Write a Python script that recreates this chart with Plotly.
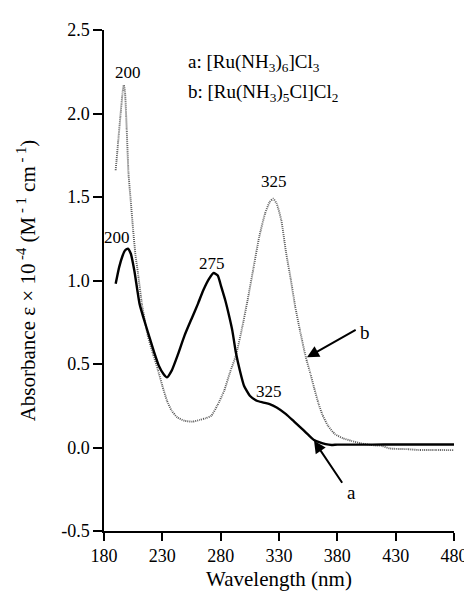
import plotly.graph_objects as go

# Curve a: [Ru(NH3)6]Cl3
wl_a = [190, 193, 196, 198, 200.5, 203, 206, 210.5, 215, 219, 223, 227, 231, 234, 238, 243,
        249, 255, 260.5, 265, 270, 274, 277.5, 280.6, 284, 287.5, 290, 293, 296.5, 300,
        305, 311, 316, 322, 328, 336, 343, 350, 356, 360, 365, 370, 375, 380, 400, 420,
        440, 460, 480]
abs_a = [0.98, 1.08, 1.15, 1.18, 1.19, 1.16, 1.06, 0.86, 0.75, 0.66, 0.57, 0.49, 0.44, 0.42,
         0.46, 0.55, 0.67, 0.77, 0.86, 0.94, 1.01, 1.045, 1.03, 0.96, 0.88, 0.78, 0.70, 0.57,
         0.46, 0.37, 0.31, 0.28, 0.27, 0.26, 0.24, 0.20, 0.155, 0.11, 0.07, 0.045, 0.03, 0.02,
         0.015, 0.017, 0.017, 0.018, 0.018, 0.018, 0.018]

# Curve b: [Ru(NH3)5Cl]Cl2
wl_b = [190, 192, 194, 196, 197, 198, 199.5, 201, 203, 205, 207, 209, 212.5, 217.5, 222, 226,
        230, 234, 238, 243, 249, 256, 262, 267, 272, 277, 283, 288, 293, 298.5, 303, 308,
        313, 318, 322, 325, 328, 332, 336, 340, 344, 348, 353, 357, 360, 364, 367, 372, 378,
        385, 392, 400, 411, 418, 425, 440, 450, 465, 480]
abs_b = [1.66, 1.82, 1.98, 2.13, 2.17, 2.13, 1.90, 1.64, 1.47, 1.30, 1.15, 1.05, 0.86, 0.67,
         0.56, 0.47, 0.37, 0.28, 0.22, 0.18, 0.16, 0.155, 0.165, 0.175, 0.19, 0.25, 0.34, 0.45,
         0.55, 0.72, 0.88, 1.07, 1.26, 1.40, 1.47, 1.49, 1.46, 1.36, 1.17, 1.01, 0.84, 0.70,
         0.54, 0.44, 0.36, 0.26, 0.20, 0.13, 0.08, 0.055, 0.04, 0.025, 0.013, 0.01, -0.006,
         -0.01, -0.015, -0.015, -0.016]

x_ticks = [180, 230, 280, 330, 380, 430, 480]
y_ticks = [-0.5, 0.0, 0.5, 1.0, 1.5, 2.0, 2.5]
y_tick_text = ["-0.5", "0.0", "0.5", "1.0", "1.5", "2.0", "2.5"]

# peak labels: (x, y, text)
peak_labels = [(200.5, 2.245, "200"), (191.5, 1.255, "200"), (272.5, 1.10, "275"),
               (325.6, 1.59, "325"), (321, 0.333, "325")]

FONT = "'Liberation Serif', 'DejaVu Serif', serif"

fig = go.Figure()
fig.add_trace(go.Scatter(x=wl_b, y=abs_b, mode="lines",
                         line=dict(color="#5a5a5a", width=1.9, dash="1px,1px",
                                   shape="spline", smoothing=0.5),
                         showlegend=False))
fig.add_trace(go.Scatter(x=wl_a, y=abs_a, mode="lines",
                         line=dict(color="black", width=2.4, shape="spline", smoothing=0.5),
                         showlegend=False))

ann = []
for x, y, t in peak_labels:
    ann.append(dict(x=x, y=y, text=t, showarrow=False, xref="x", yref="y",
                    font=dict(family=FONT, size=17, color="black")))

ann.append(dict(x=250, y=2.30, xref="x", yref="y", xanchor="left", showarrow=False,
                text="a: [Ru(NH<sub>3</sub>)<sub>6</sub>]Cl<sub>3</sub>",
                font=dict(family=FONT, size=19, color="black")))
ann.append(dict(x=250, y=2.125, xref="x", yref="y", xanchor="left", showarrow=False,
                text="b: [Ru(NH<sub>3</sub>)<sub>5</sub>Cl]Cl<sub>2</sub>",
                font=dict(family=FONT, size=19, color="black")))

# arrows
ann.append(dict(x=354, y=0.54, ax=397, ay=0.71, axref="x", ayref="y", xref="x", yref="y",
                showarrow=True, arrowhead=2, arrowsize=1.2, arrowwidth=2, arrowcolor="black",
                text=""))
ann.append(dict(x=360, y=0.04, ax=385, ay=-0.22, axref="x", ayref="y", xref="x", yref="y",
                showarrow=True, arrowhead=2, arrowsize=1.2, arrowwidth=2, arrowcolor="black",
                text=""))
ann.append(dict(x=404, y=0.69, text="b", showarrow=False, xref="x", yref="y",
                font=dict(family=FONT, size=19, color="black")))
ann.append(dict(x=392, y=-0.27, text="a", showarrow=False, xref="x", yref="y",
                font=dict(family=FONT, size=19, color="black")))

fig.update_layout(
    width=472, height=591,
    margin=dict(l=96, r=16, t=20, b=62),
    paper_bgcolor="white", plot_bgcolor="white",
    font=dict(family=FONT, size=18, color="black"),
    annotations=ann,
    xaxis=dict(range=[180, 480], tickvals=x_ticks, showgrid=False, zeroline=False,
               showline=True, linecolor="black", linewidth=1.5,
               ticks="outside", ticklen=8, tickwidth=1.5, tickcolor="black",
               tickfont=dict(family=FONT, size=18),
               title=dict(text="Wavelength (nm)", font=dict(family=FONT, size=21), standoff=6)),
    yaxis=dict(range=[-0.5, 2.5], tickvals=y_ticks, ticktext=y_tick_text, showgrid=False,
               zeroline=False, showline=True, linecolor="black", linewidth=1.5,
               ticks="outside", ticklen=9, tickwidth=1.5, tickcolor="black",
               tickfont=dict(family=FONT, size=18),
               title=dict(text="Absorbance ε × 10<sup> -4</sup> (M<sup> - 1</sup> cm<sup> - 1</sup>)",
                          font=dict(family=FONT, size=21), standoff=20)),
)

fig.write_html("out.html")
